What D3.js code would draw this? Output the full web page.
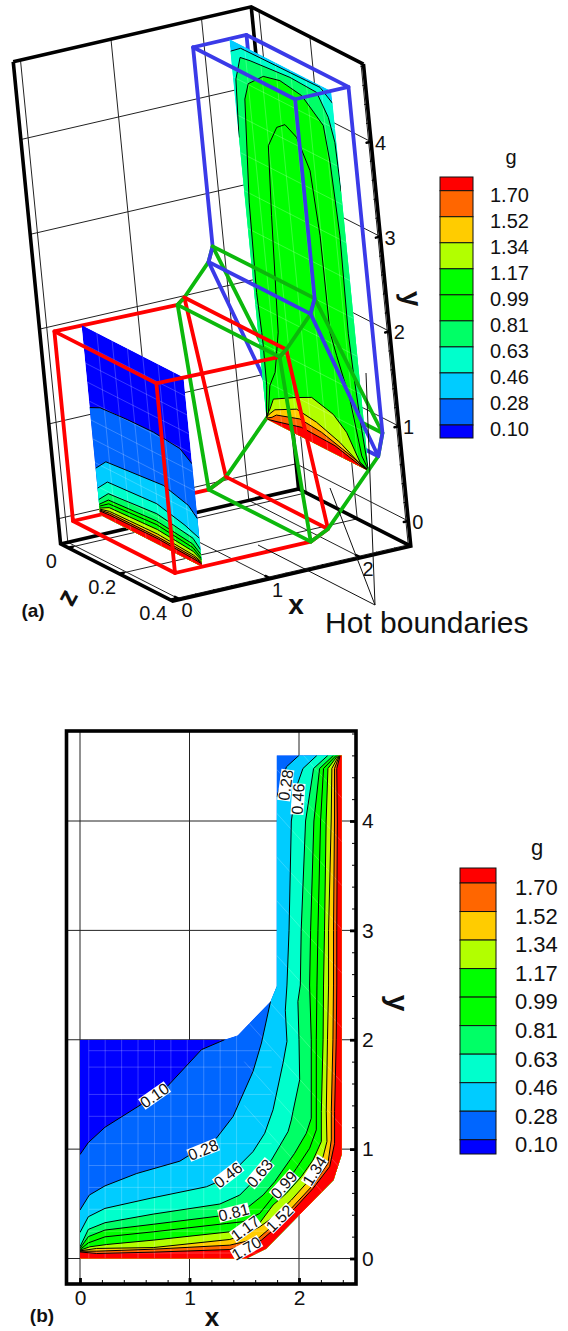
<!DOCTYPE html>
<html>
<head>
<meta charset="utf-8">
<script src="https://cdnjs.cloudflare.com/ajax/libs/d3/7.8.5/d3.min.js"></script>
<style>
body { margin: 0; background: #fff; }
text { font-family: "Liberation Sans", Arial, sans-serif; fill: #111; }
</style>
</head>
<body>
<div id="fig"></div>
<script>
// contour levels and band colours (lowest band first)
const levels = [0.10, 0.28, 0.46, 0.63, 0.81, 0.99, 1.17, 1.34, 1.52, 1.70];
const levelLabels = ["0.10", "0.28", "0.46", "0.63", "0.81", "0.99", "1.17", "1.34", "1.52", "1.70"];
const bandColors = ["#0000ff", "#0066ff", "#00ccff", "#00ffcc", "#00ff66", "#00ff00", "#00ff00", "#b2ff00", "#ffcc00", "#ff6600", "#ff0000"];

// duct outline seen from z (x, y)
const ductOutline = [[0, 0], [1.52, 0], [1.7, 0.09], [2.316, 0.717], [2.39, 0.95], [2.39, 4.6], [1.797, 4.6], [1.797, 2.49], [1.74, 2.35], [1.44, 2.04], [1.32, 2], [0, 2]];

// panel b, contour lines (x, y)
const cB010 = [[0, 0.95], [0.076, 1.06], [0.228, 1.2], [0.578, 1.42], [0.79, 1.565], [1.11, 1.91], [1.32, 2]];
const cB028a = [[0, 0.443], [0.085, 0.58], [0.228, 0.664], [0.517, 0.777], [0.912, 0.89], [1.246, 1.1], [1.398, 1.298], [1.58, 1.71], [1.657, 1.97], [1.74, 2.35]];
const cB028b = [[1.797, 4.22], [1.885, 4.495], [2, 4.6]];
const cB046 = [[0, 0.238], [0.076, 0.382], [0.228, 0.458], [0.64, 0.55], [1.155, 0.656], [1.37, 0.75], [1.459, 0.855], [1.58, 0.977], [1.687, 1.145], [1.763, 1.36], [1.854, 1.786], [1.89, 1.985], [1.875, 2.27], [1.89, 2.5], [1.909, 3], [1.93, 4], [1.976, 4.31], [2.036, 4.48], [2.164, 4.6]];
const cB063 = [[0, 0.107], [0.076, 0.266], [0.228, 0.327], [0.669, 0.406], [1.277, 0.498], [1.459, 0.58], [1.55, 0.672], [1.647, 0.779], [1.748, 0.9], [1.9, 1.16], [1.93, 1.267], [1.945, 1.344], [2.006, 1.634], [2, 2], [1.99, 2.35], [2.012, 2.5], [2.02, 3], [2.06, 4], [2.133, 4.48], [2.264, 4.6]];
const cB081 = [[0, 0.092], [0.076, 0.2], [0.228, 0.26], [0.669, 0.313], [1.277, 0.389], [1.52, 0.458], [1.672, 0.58], [1.778, 0.702], [1.96, 0.962], [2.067, 1.145], [2.112, 1.282], [2.112, 2], [2.097, 2.5], [2.106, 3], [2.136, 4], [2.188, 4.48], [2.315, 4.6]];
const cB099 = [[0, 0.082], [0.076, 0.143], [0.228, 0.198], [0.669, 0.244], [1.337, 0.32], [1.489, 0.336], [1.641, 0.412], [1.763, 0.565], [1.869, 0.672], [1.976, 0.824], [2.097, 1.008], [2.158, 1.176], [2.158, 2], [2.164, 2.5], [2.173, 3], [2.197, 4], [2.224, 4.48], [2.34, 4.6]];
const cB117 = [[0, 0.076], [0.09, 0.107], [0.243, 0.128], [0.669, 0.168], [1.368, 0.244], [1.626, 0.305], [1.763, 0.489], [1.884, 0.595], [2.021, 0.748], [2.128, 0.9], [2.204, 1.069], [2.204, 1.344], [2.22, 2], [2.224, 2.5], [2.233, 3], [2.248, 4], [2.264, 4.48], [2.355, 4.6]];
const cB134 = [[0, 0.07], [0.152, 0.092], [0.669, 0.1], [1.368, 0.174], [1.489, 0.214], [1.641, 0.29], [1.793, 0.397], [1.93, 0.534], [2.067, 0.687], [2.22, 0.931], [2.255, 1.069], [2.249, 1.344], [2.26, 2], [2.27, 2.5], [2.27, 3], [2.294, 4], [2.3, 4.48], [2.364, 4.6]];
const cB152 = [[0, 0.067], [0.152, 0.067], [0.669, 0.085], [1.368, 0.122], [1.626, 0.183], [1.733, 0.275], [1.93, 0.458], [2.128, 0.672], [2.264, 0.87], [2.295, 1.084], [2.295, 1.344], [2.31, 2], [2.315, 2.5], [2.315, 3], [2.324, 4], [2.324, 4.48], [2.37, 4.6]];
const cB170 = [[0, 0.06], [0.152, 0.046], [0.669, 0.058], [1.368, 0.082], [1.52, 0.122], [1.657, 0.168], [1.763, 0.26], [1.96, 0.458], [2.128, 0.641], [2.28, 0.84], [2.325, 1.053], [2.325, 1.344], [2.34, 2], [2.345, 2.5], [2.345, 3], [2.35, 4], [2.345, 4.48], [2.376, 4.6]];
const contoursB = [[cB010], [cB028a, cB028b], [cB046], [cB063], [cB081], [cB099], [cB117], [cB134], [cB152], [cB170]];

// panel b, labels on the contours (text, x, y, angle)
const labelTextB = ["0.10", "0.28", "0.46", "0.63", "0.81", "0.99", "1.17", "1.34", "1.52", "1.70", "0.28", "0.46"];
const labelXB = [0.681, 1.125, 1.353, 1.641, 1.404, 1.863, 1.51, 2.143, 1.824, 1.52, 1.879, 1.991];
const labelYB = [1.49, 0.992, 0.763, 0.779, 0.42, 0.672, 0.275, 0.8, 0.366, 0.092, 4.328, 4.2];
const labelAngleB = [-35, -22, -38, -50, -14, -48, -36, -58, -45, -30, -82, -86];

// panel b, faint mesh
const meshXB = [0.08, 0.23, 0.38, 0.53, 0.68, 0.83, 0.98, 1.13, 1.28, 1.43];
const meshYB = [0.05, 0.25, 0.45, 0.65, 0.85, 1.05, 1.3, 1.5, 1.75, 1.9];
const meshArmB = [0.7, 1.1, 1.5, 1.9, 2.4, 2.9, 3.3, 3.7, 4.1, 4.5];

// panel a, plate at x = 0.3 (z, y)
const p1c010 = [[0, 1.13], [0.043, 1.187], [0.15, 1.21], [0.253, 1.219], [0.356, 1.186], [0.4, 1.086]];
const p1c028 = [[0, 0.49], [0.045, 0.62], [0.273, 0.684], [0.368, 0.603], [0.4, 0.507]];
const p1c046 = [[0, 0.28], [0.043, 0.404], [0.238, 0.443], [0.346, 0.363], [0.4, 0.3]];
const p1c063 = [[0, 0.16], [0.042, 0.28], [0.234, 0.332], [0.374, 0.264], [0.4, 0.18]];
const p1c081 = [[0, 0.11], [0.04, 0.21], [0.23, 0.25], [0.37, 0.2], [0.4, 0.13]];
const p1c099 = [[0, 0.09], [0.04, 0.17], [0.23, 0.21], [0.37, 0.16], [0.4, 0.09]];
const p1c117 = [[0, 0.07], [0.04, 0.13], [0.23, 0.16], [0.37, 0.12], [0.4, 0.07]];
const p1c134 = [[0, 0.06], [0.04, 0.09], [0.23, 0.11], [0.37, 0.08], [0.4, 0.05]];
const p1c152 = [[0, 0.05], [0.04, 0.07], [0.23, 0.08], [0.37, 0.06], [0.4, 0.04]];
const p1c170 = [[0, 0.04], [0.04, 0.05], [0.23, 0.06], [0.37, 0.04], [0.4, 0.03]];
const plate1Contours = [p1c010, p1c028, p1c046, p1c063, p1c081, p1c099, p1c117, p1c134, p1c152, p1c170];
const plate1Levels = levels;
const plate1X = 0.3;
const plate1Y = [0, 2];

// panel a, plate at x = 2.2 (z, y)
const p2c046 = [[0, 4.47], [0.043, 4.56], [0.355, 4.575], [0.4, 4.47]];
const p2c063 = [[0, 3.56], [0.011, 4.19], [0.037, 4.455], [0.077, 4.475], [0.235, 4.516], [0.339, 4.5], [0.377, 4.29], [0.394, 4.05], [0.4, 3.54]];
const p2c081 = [[0, 0.6], [0.014, 0.96], [0.016, 1.39], [0.015, 1.525], [0.01, 1.94], [0.016, 2.9], [0.04, 4.02], [0.06, 4.21], [0.125, 4.376], [0.192, 4.423], [0.276, 4.38], [0.353, 4.17], [0.366, 3.8], [0.377, 3.04], [0.372, 2], [0.377, 1.6], [0.388, 1.02], [0.4, 0.6]];
const p2c099 = [[0, 0.6], [0.01, 0.67], [0.027, 0.98], [0.054, 1.156], [0.083, 1.62], [0.103, 2.88], [0.118, 3.635], [0.16, 3.886], [0.195, 3.963], [0.238, 3.888], [0.28, 3.594], [0.295, 2.93], [0.297, 1.91], [0.315, 1.69], [0.352, 1.284], [0.378, 0.72], [0.4, 0.6]];
const p2c117 = [[0, 0.62], [0.018, 0.72], [0.036, 0.85], [0.126, 0.99], [0.195, 1.086], [0.277, 1.02], [0.325, 0.895], [0.368, 0.64], [0.4, 0.6]];
const p2c134 = [[0, 0.61], [0.013, 0.66], [0.038, 0.74], [0.128, 0.87], [0.205, 0.837], [0.293, 0.746], [0.374, 0.61], [0.4, 0.6]];
const p2c152 = [[0, 0.6], [0.023, 0.64], [0.042, 0.69], [0.137, 0.779], [0.222, 0.754], [0.349, 0.646], [0.4, 0.59]];
const p2c170 = [[0, 0.59], [0.042, 0.62], [0.141, 0.696], [0.271, 0.681], [0.373, 0.6], [0.4, 0.59]];
const plate2Contours = [p2c046, p2c063, p2c081, p2c099, p2c117, p2c134, p2c152, p2c170];
const plate2Levels = levels.slice(2);
const plate2X = 2.2;
const plate2Y = [0.59, 4.6];

const meshZ = [0.06, 0.12, 0.18, 0.24, 0.3, 0.36];
const meshY1 = [0.3, 0.55, 0.8, 1, 1.2, 1.4, 1.6, 1.8];
const meshY2 = [1, 1.4, 1.8, 2.2, 2.6, 3, 3.4, 3.8, 4.2];

// wire boxes (x, y), drawn at z = 0 and z = 0.4
const zFaces = [0, 0.4];
const redBox = [[0, 0], [1.5, 0], [1.7, 0.09], [1.44, 2.04], [1.36, 1.98], [0, 2]];
const greenBox = [[1.5, 0], [1.7, 0.09], [2.32, 0.72], [2.39, 0.95], [1.8, 2.5], [1.74, 2.35], [1.44, 2.04], [1.36, 1.98]];
const blueBox = [[1.8, 4.6], [2.39, 4.6], [2.39, 0.95], [2.32, 0.72], [1.74, 2.35], [1.8, 2.5]];
// edges running along z
const redEdges = [[0, 0], [1.7, 0.09], [1.44, 2.04], [0, 2]];
const greenEdges = [[1.5, 0], [1.36, 1.98], [1.8, 2.5]];
const blueEdges = [[1.8, 4.6], [2.39, 4.6], [1.74, 2.35]];
const behindEdges = [[2.32, 0.72, "#3a3ae8"], [2.39, 0.95, "#0cb80c"]];

// axis limits and ticks
const xLim = [-0.08, 2.55];
const yLim = [-0.265, 4.82];
const zLim = [-0.03, 0.41];
const xTicks = [0, 1, 2];
const yTicks = [0, 1, 2, 3, 4];
const zTicks = [0, 0.2, 0.4];
const zTickLabels = ["0", "0.2", "0.4"];
const xMinor = [0.2, 0.4, 0.6, 0.8, 1.2, 1.4, 1.6, 1.8, 2.2, 2.4];
const yMinor = [0.2, 0.4, 0.6, 0.8, 1.2, 1.4, 1.6, 1.8, 2.2, 2.4, 2.6, 2.8, 3.2, 3.4, 3.6, 3.8, 4.2, 4.4, 4.6, 4.8];

const svg = d3.select("#fig").append("svg").attr("width", 568).attr("height", 1331).style("display", "block");
const defs = svg.append("defs");

const bandColor = d3.scaleThreshold().domain(levels).range(bandColors);

/* PANEL A: affine view of the 3D box */
const ax = d3.scaleLinear().domain([0, 1]).range([0, 90.5]);
const ay = d3.scaleLinear().domain([0, 1]).range([0, 95]);
const az = d3.scaleLinear().domain([0, 1]).range([0, 255]);
function proj(x, y, z) {
    return [73 + ax(x) - ay(y) * 0.098 + az(z),
            521 - ax(x) * 0.231 - ay(y) * 0.998 + az(z) * 0.51];
}
const line3 = d3.line().x(d => proj(d[0], d[1], d[2])[0]).y(d => proj(d[0], d[1], d[2])[1]);
const gA = svg.append("g");

function seg3(g, a, b, color, w) {
    g.append("path").attr("d", line3([a, b])).attr("fill", "none").attr("stroke", color).attr("stroke-width", w).attr("stroke-linecap", "round");
}

// thin grid on back wall, right wall and floor
const gridA = gA.append("g");
xTicks.forEach(x => {
    seg3(gridA, [x, yLim[0], zLim[0]], [x, yLim[1], zLim[0]], "#222", 1);
    seg3(gridA, [x, yLim[0], zLim[0]], [x, yLim[0], zLim[1]], "#222", 1);
});
yTicks.forEach(y => {
    seg3(gridA, [xLim[0], y, zLim[0]], [xLim[1], y, zLim[0]], "#222", 1);
    seg3(gridA, [xLim[1], y, zLim[0]], [xLim[1], y, zLim[1]], "#222", 1);
});
zTicks.forEach(z => {
    seg3(gridA, [xLim[1], yLim[0], z], [xLim[1], yLim[1], z], "#222", 1);
    seg3(gridA, [xLim[0], yLim[0], z], [xLim[1], yLim[0], z], "#222", 1);
});

// heavy box edges
const corners = [
    [[xLim[0], yLim[1], zLim[0]], [xLim[1], yLim[1], zLim[0]], [xLim[1], yLim[1], zLim[1]]],
    [[xLim[0], yLim[1], zLim[0]], [xLim[0], yLim[0], zLim[0]], [xLim[0], yLim[0], zLim[1]], [xLim[1], yLim[0], zLim[1]], [xLim[1], yLim[1], zLim[1]]],
    [[xLim[1], yLim[1], zLim[0]], [xLim[1], yLim[0], zLim[0]]],
    [[xLim[0], yLim[0], zLim[0]], [xLim[1], yLim[0], zLim[0]], [xLim[1], yLim[0], zLim[1]]]
];
corners.forEach(c => {
    gA.append("path").attr("d", line3(c)).attr("fill", "none").attr("stroke", "#000").attr("stroke-width", 3.6).attr("stroke-linejoin", "miter");
});

// ticks on the box
xTicks.forEach(x => seg3(gA, [x, yLim[0], zLim[1]], [x, yLim[0], zLim[1] - 0.02], "#000", 2.5));
xMinor.forEach(x => seg3(gA, [x, yLim[0], zLim[1]], [x, yLim[0], zLim[1] - 0.01], "#000", 1));
yTicks.forEach(y => seg3(gA, [xLim[1], y, zLim[1]], [xLim[1] - 0.05, y, zLim[1]], "#000", 2.5));
yMinor.forEach(y => seg3(gA, [xLim[1], y, zLim[1]], [xLim[1] - 0.03, y, zLim[1]], "#000", 1));
zTicks.forEach(z => seg3(gA, [xLim[0], yLim[0], z], [xLim[0] + 0.05, yLim[0], z], "#000", 2.5));

// wire boxes at the z = 0 face go behind the plates
const WIRE = 3.8;
function wire(g, box, z, color) {
    g.append("path").attr("d", line3(box.map(d => [d[0], d[1], z])) + "Z").attr("fill", "none").attr("stroke", color).attr("stroke-width", WIRE).attr("stroke-linejoin", "round");
}
const RED = "#ff0000", GREEN = "#0cb80c", BLUE = "#3a3ae8";
wire(gA, redBox, zFaces[0], RED);
wire(gA, greenBox, zFaces[0], GREEN);
wire(gA, blueBox, zFaces[0], BLUE);
behindEdges.forEach(e => seg3(gA, [e[0], e[1], zFaces[0]], [e[0], e[1], zFaces[1]], e[2], WIRE));

// plates
function drawPlate(id, xp, yr, cs, lv, meshY) {
    const lineP = d3.line().x(d => proj(xp, d[1], d[0])[0]).y(d => proj(xp, d[1], d[0])[1]);
    const outline = [[0, yr[0]], [0.4, yr[0]], [0.4, yr[1]], [0, yr[1]]];
    defs.append("clipPath").attr("id", id).append("path").attr("d", lineP(outline) + "Z");
    const g = gA.append("g").attr("clip-path", "url(#" + id + ")");
    g.append("path").attr("d", lineP(outline) + "Z").attr("fill", bandColor(lv[0] - 0.01));
    cs.forEach((c, i) => {
        const poly = [[-0.1, c[0][1]]].concat(c, [[0.5, c[c.length - 1][1]], [0.5, -1], [-0.1, -1]]);
        g.append("path").attr("d", lineP(poly) + "Z").attr("fill", bandColor(lv[i]));
    });
    meshZ.forEach(z => g.append("path").attr("d", lineP([[z, yr[0]], [z, yr[1]]])).attr("stroke", "#fff").attr("stroke-opacity", 0.22).attr("fill", "none"));
    meshY.forEach(y => g.append("path").attr("d", lineP([[0, y], [0.4, y]])).attr("stroke", "#fff").attr("stroke-opacity", 0.22).attr("fill", "none"));
    cs.forEach(c => g.append("path").attr("d", lineP(c)).attr("fill", "none").attr("stroke", "#000").attr("stroke-width", 1));
}
drawPlate("plate1", plate1X, plate1Y, plate1Contours, plate1Levels, meshY1);
drawPlate("plate2", plate2X, plate2Y, plate2Contours, plate2Levels, meshY2);

// z = 0.4 face and z edges on top
wire(gA, redBox, zFaces[1], RED);
redEdges.forEach(e => seg3(gA, [e[0], e[1], zFaces[0]], [e[0], e[1], zFaces[1]], RED, WIRE));
wire(gA, greenBox, zFaces[1], GREEN);
greenEdges.forEach(e => seg3(gA, [e[0], e[1], zFaces[0]], [e[0], e[1], zFaces[1]], GREEN, WIRE));
wire(gA, blueBox, zFaces[1], BLUE);
blueEdges.forEach(e => seg3(gA, [e[0], e[1], zFaces[0]], [e[0], e[1], zFaces[1]], BLUE, WIRE));

// panel a tick labels
function label(g, x, y, s, size, opts) {
    opts = opts || {};
    const t = g.append("text").attr("x", x).attr("y", y).attr("text-anchor", opts.anchor || "middle")
        .attr("dominant-baseline", "central").attr("font-size", size).attr("font-weight", opts.bold ? "bold" : "normal").text(s);
    if (opts.rot !== undefined) t.attr("transform", "rotate(" + opts.rot + " " + x + " " + y + ")");
    return t;
}
xTicks.forEach(x => {
    const p = proj(x, yLim[0], zLim[1]);
    label(gA, p[0] + 7, p[1] + 11, String(x), 20);
});
yTicks.forEach(y => {
    const p = proj(xLim[1], y, zLim[1]);
    label(gA, p[0] + 4, p[1] + 1, String(y), 20, { anchor: "start" });
});
zTicks.forEach((z, i) => {
    const p = proj(xLim[0], yLim[0], z);
    label(gA, p[0] - 17, p[1] + 13, zTickLabels[i], 20);
});
label(gA, 296, 604, "x", 28, { bold: true });
label(gA, 412, 299, "y", 28, { bold: true, rot: 84 });
label(gA, 67, 597, "z", 28, { bold: true, rot: -62 });
label(gA, 33, 610, "(a)", 19, { bold: true });

// Hot boundaries leaders
const leaderEnds = [[258, 545], [330, 488], [366, 373]];
leaderEnds.forEach(p => {
    gA.append("line").attr("x1", 375).attr("y1", 605).attr("x2", p[0]).attr("y2", p[1]).attr("stroke", "#111").attr("stroke-width", 1);
});
label(gA, 325, 622, "Hot boundaries", 30, { anchor: "start" });

/* PANEL B */
const xB = d3.scaleLinear().domain([0, 2]).range([80, 299]);
const yB = d3.scaleLinear().domain([0, 4]).range([1258.5, 821]);
const frameB = { left: 66.5, right: 356, top: 731, bottom: 1284 };
const lineB = d3.line().x(d => xB(d[0])).y(d => yB(d[1]));
const gB = svg.append("g");

// grid
xTicks.forEach(x => gB.append("line").attr("x1", xB(x)).attr("x2", xB(x)).attr("y1", frameB.top).attr("y2", frameB.bottom).attr("stroke", "#222"));
yTicks.forEach(y => gB.append("line").attr("y1", yB(y)).attr("y2", yB(y)).attr("x1", frameB.left).attr("x2", frameB.right).attr("stroke", "#222"));

// filled bands, clipped to the duct
defs.append("clipPath").attr("id", "ductB").append("path").attr("d", lineB(ductOutline) + "Z");
const fillB = gB.append("g").attr("clip-path", "url(#ductB)");
fillB.append("path").attr("d", lineB(ductOutline) + "Z").attr("fill", bandColors[0]);
contoursB.forEach((parts, i) => {
    const c = parts.flat();
    const last = c[c.length - 1];
    const poly = c.concat([[last[0], 5], [2.7, 5], [2.7, -0.2], [0, -0.2]]);
    fillB.append("path").attr("d", lineB(poly) + "Z").attr("fill", bandColor(levels[i]));
});
meshXB.forEach(x => fillB.append("path").attr("d", lineB([[x, 0], [x, 2.1]])).attr("stroke", "#fff").attr("stroke-opacity", 0.22).attr("fill", "none"));
meshYB.forEach(y => fillB.append("path").attr("d", lineB([[0.08, y], [1.75, y]])).attr("stroke", "#fff").attr("stroke-opacity", 0.22).attr("fill", "none"));
meshArmB.forEach(y => fillB.append("path").attr("d", lineB([[1.5, y + 0.7], [2.4, y - 0.3]])).attr("stroke", "#fff").attr("stroke-opacity", 0.2).attr("fill", "none"));
contoursB.forEach(parts => parts.forEach(c => {
    fillB.append("path").attr("d", lineB(c)).attr("fill", "none").attr("stroke", "#000").attr("stroke-width", 1);
}));

// labels on the contours
labelTextB.forEach((s, i) => {
    const g = gB.append("g").attr("transform", "translate(" + xB(labelXB[i]) + "," + yB(labelYB[i]) + ") rotate(" + labelAngleB[i] + ")");
    const r = g.append("rect").attr("fill", "#fff");
    const t = g.append("text").attr("text-anchor", "middle").attr("dominant-baseline", "central").attr("font-size", 16).text(s);
    const bb = t.node().getBBox();
    r.attr("x", bb.x).attr("y", bb.y + 2).attr("width", bb.width).attr("height", bb.height - 4);
});

// frame and axes
gB.append("rect").attr("x", frameB.left).attr("y", frameB.top).attr("width", frameB.right - frameB.left).attr("height", frameB.bottom - frameB.top)
    .attr("fill", "none").attr("stroke", "#000").attr("stroke-width", 3.6);
const axB = gB.append("g").attr("transform", "translate(0," + frameB.bottom + ")")
    .call(d3.axisBottom(xB).tickValues(xTicks).tickSize(-6).tickPadding(6).tickFormat(d3.format("d")));
const axBm = gB.append("g").attr("transform", "translate(0," + frameB.bottom + ")")
    .call(d3.axisBottom(xB).tickValues(xMinor).tickSize(-4).tickFormat(""));
const ayB = gB.append("g").attr("transform", "translate(" + frameB.right + ",0)")
    .call(d3.axisRight(yB).tickValues(yTicks).tickSize(-6).tickPadding(6).tickFormat(d3.format("d")));
const ayBm = gB.append("g").attr("transform", "translate(" + frameB.right + ",0)")
    .call(d3.axisRight(yB).tickValues(yMinor).tickSize(-4).tickFormat(""));
[axB, axBm, ayB, ayBm].forEach(a => a.select(".domain").remove());
[axB, ayB].forEach(a => {
    a.selectAll("line").attr("stroke", "#000").attr("stroke-width", 2.8);
    a.selectAll("text").attr("font-size", 21).attr("font-family", "Liberation Sans").attr("fill", "#111");
});
label(gB, 212, 1316.5, "x", 26, { bold: true });
label(gB, 398, 1003, "y", 30, { bold: true, rot: 90 });
label(gB, 42, 1315, "(b)", 19, { bold: true });

/* COLOUR BARS */
function colourBar(left, width, top, bottom, labelX, gX, gY, size, firstLine) {
    const g = svg.append("g");
    // cells: thin top cell, ten equal bands below the 1.70 line with a short bottom one
    const y = d3.scaleLinear().domain([levels.length - 1, 0]).range([firstLine, firstLine + (bottom - firstLine) * 9 / 9.5]);
    const edges = [top].concat(levels.map((d, i) => y(levels.length - 1 - i)), [bottom]);
    const colors = bandColors.slice().reverse();
    colors.forEach((c, i) => {
        g.append("rect").attr("x", left).attr("y", edges[i]).attr("width", width).attr("height", edges[i + 1] - edges[i]).attr("fill", c).attr("stroke", "#111").attr("stroke-width", 1);
    });
    levelLabels.forEach((s, i) => {
        label(g, labelX, y(i) + (y(0) - y(1)) * 0.17, s, size, { anchor: "start" });
    });
    label(g, gX, gY, "g", size);
}
colourBar(440, 33, 177, 438, 490, 511, 157, 20, 190.7);
colourBar(460, 36, 868, 1154, 515, 537, 847, 22, 883);
</script>
</body>
</html>
